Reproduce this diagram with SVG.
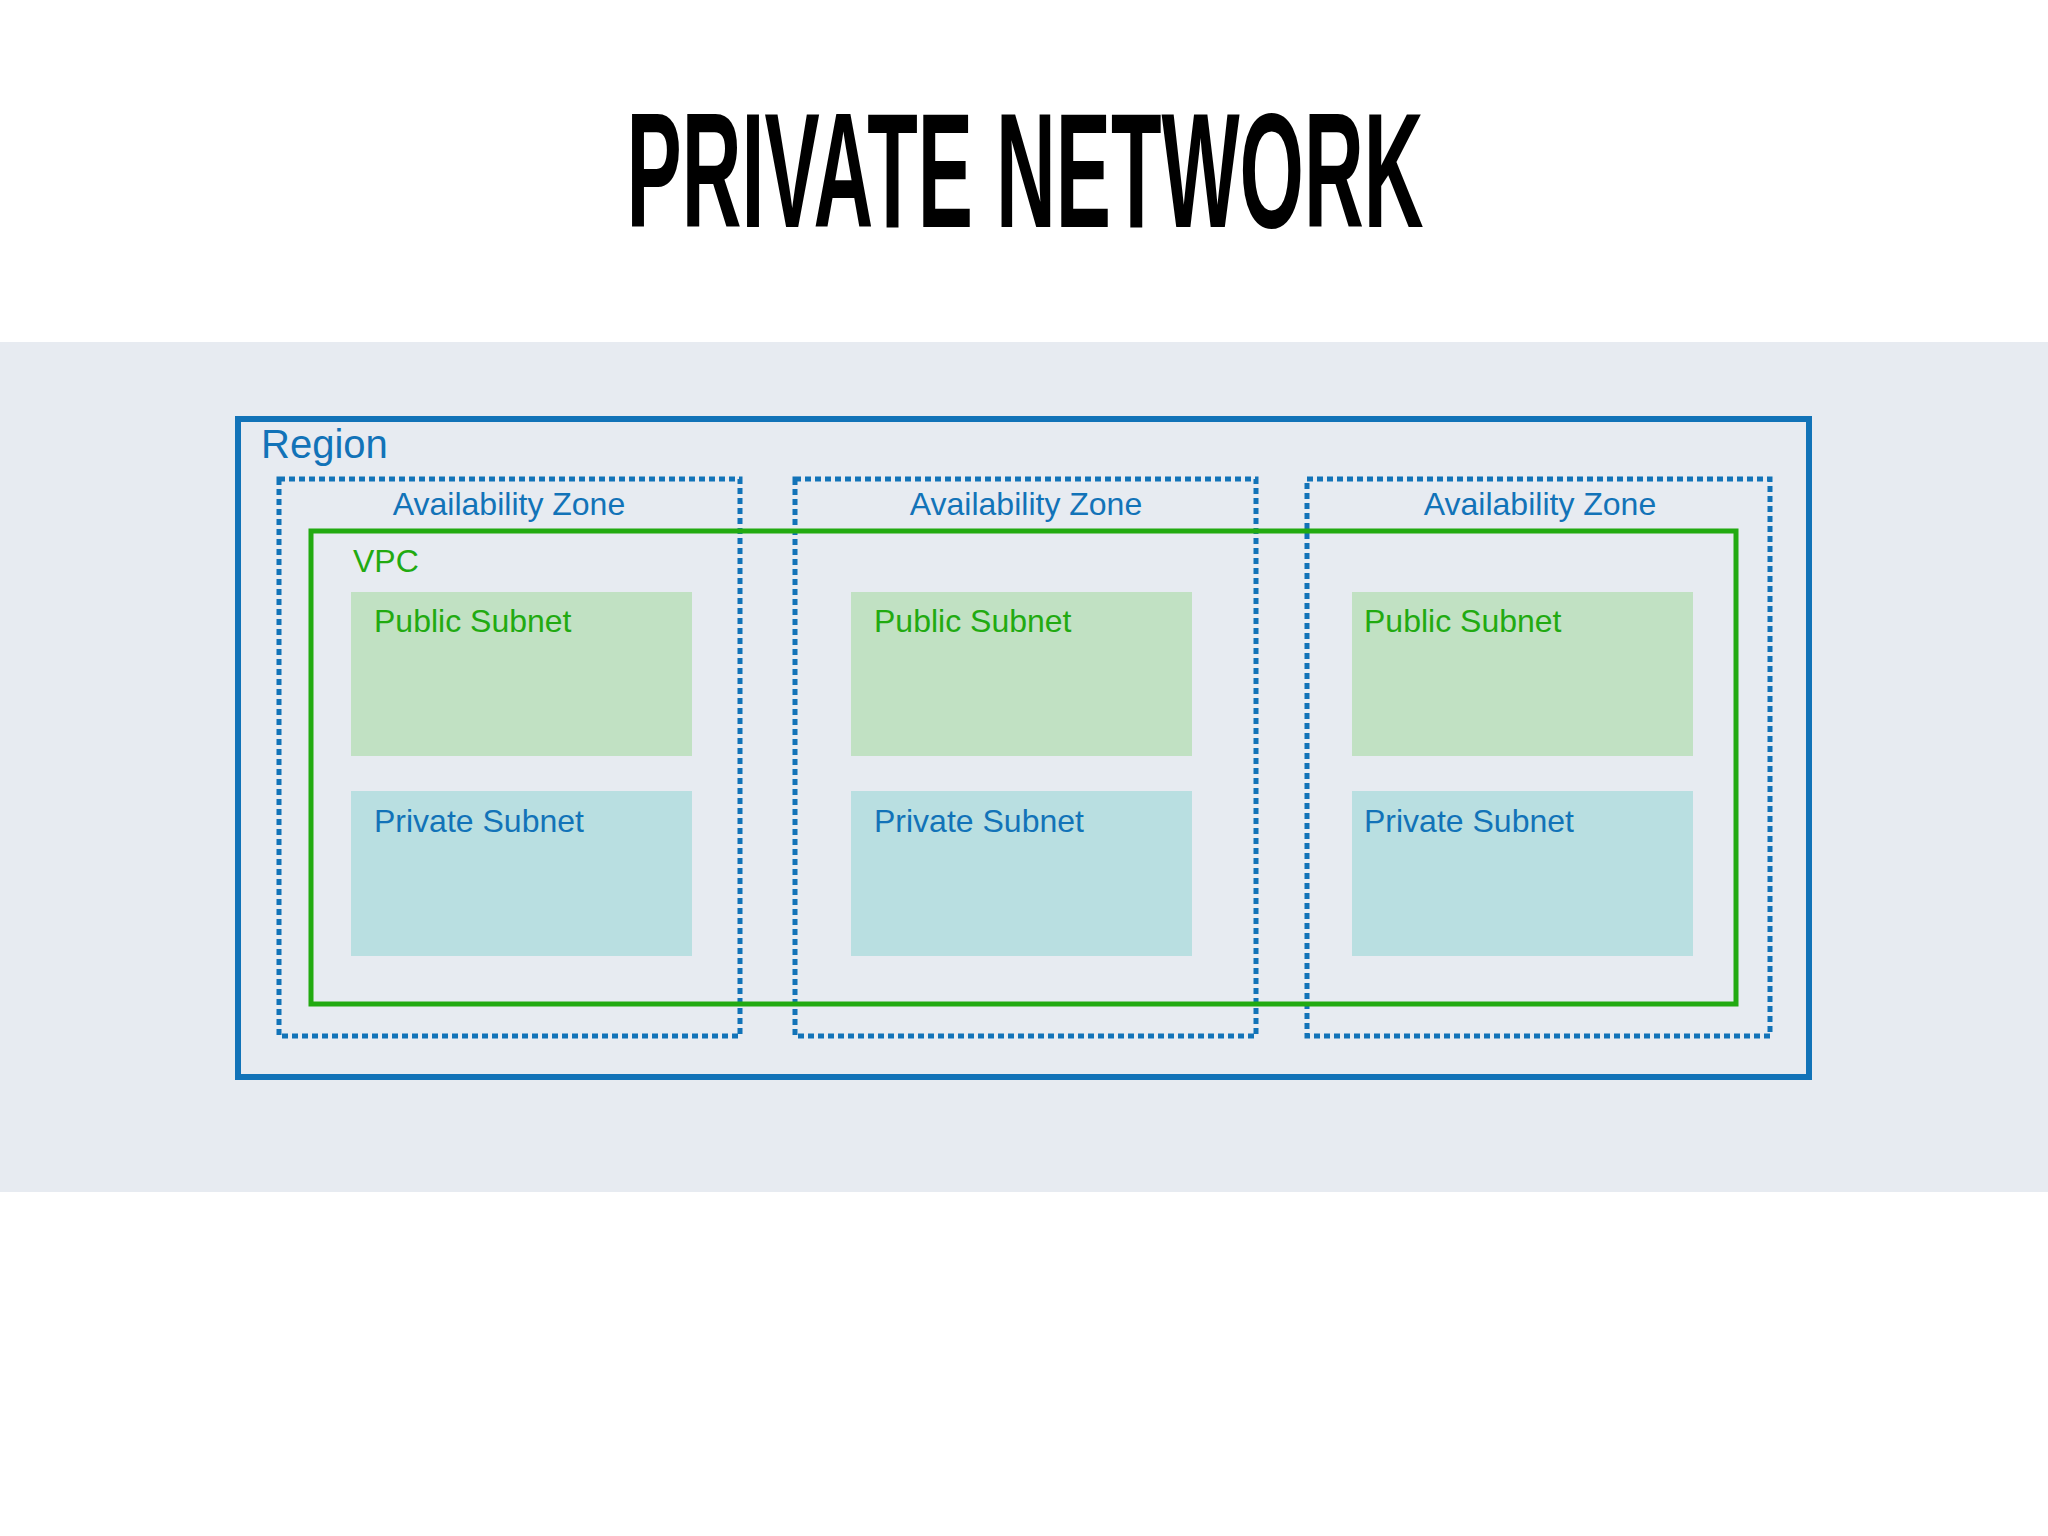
<svg xmlns="http://www.w3.org/2000/svg" width="2048" height="1536" viewBox="0 0 2048 1536">
<style>
.t{font-family:"Liberation Sans",Arial,sans-serif}
.az{fill:none;stroke:#1273b8;stroke-width:5;stroke-dasharray:6 4}
.azt{font-size:32px;fill:#1273b8;text-anchor:middle}
.pub{fill:#c1e1c3}
.pri{fill:#b9dfe1}
.pubt{font-size:32px;fill:#22aa11}
.prit{font-size:32px;fill:#1273b8}
</style>
<rect width="2048" height="1536" fill="#ffffff"/>
<text class="t" x="1025" y="227" font-size="163" font-weight="bold" text-anchor="middle" textLength="797" lengthAdjust="spacingAndGlyphs" fill="#000">PRIVATE NETWORK</text>
<rect x="0" y="342" width="2048" height="850" fill="#e7ebf1"/>
<g id="region"><rect x="238" y="419" width="1571" height="658" fill="none" stroke="#1273b8" stroke-width="6"/>
<text class="t" x="261" y="458" font-size="40" fill="#1273b8">Region</text></g>
<g id="az1"><rect class="az" x="279" y="479" width="461" height="557"/><text class="t azt" x="509" y="515">Availability Zone</text></g>
<g id="az2"><rect class="az" x="795" y="479" width="461" height="557"/><text class="t azt" x="1026" y="515">Availability Zone</text></g>
<g id="az3"><rect class="az" x="1307" y="479" width="463" height="557"/><text class="t azt" x="1540" y="515">Availability Zone</text></g>
<g id="vpc"><rect x="311" y="531" width="1425" height="473" fill="none" stroke="#22aa11" stroke-width="5"/>
<text class="t" x="353" y="572" font-size="32" fill="#22aa11">VPC</text></g>
<g id="pub1"><rect class="pub" x="351" y="592" width="341" height="164"/><text class="t pubt" x="374" y="632">Public Subnet</text></g>
<g id="pub2"><rect class="pub" x="851" y="592" width="341" height="164"/><text class="t pubt" x="874" y="632">Public Subnet</text></g>
<g id="pub3"><rect class="pub" x="1352" y="592" width="341" height="164"/><text class="t pubt" x="1364" y="632">Public Subnet</text></g>
<g id="pri1"><rect class="pri" x="351" y="791" width="341" height="165"/><text class="t prit" x="374" y="832">Private Subnet</text></g>
<g id="pri2"><rect class="pri" x="851" y="791" width="341" height="165"/><text class="t prit" x="874" y="832">Private Subnet</text></g>
<g id="pri3"><rect class="pri" x="1352" y="791" width="341" height="165"/><text class="t prit" x="1364" y="832">Private Subnet</text></g>
<g id="connectors"/>
</svg>
